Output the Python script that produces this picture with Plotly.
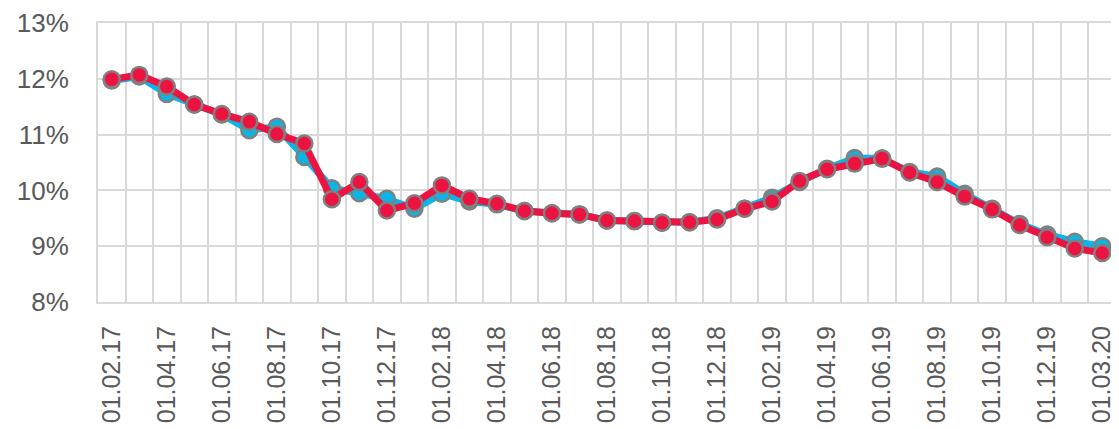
import plotly.graph_objects as go

# monthly dates (labels shown every second month)
dates = [
    "01.02.17", "01.03.17", "01.04.17", "01.05.17", "01.06.17", "01.07.17",
    "01.08.17", "01.09.17", "01.10.17", "01.11.17", "01.12.17", "01.01.18",
    "01.02.18", "01.03.18", "01.04.18", "01.05.18", "01.06.18", "01.07.18",
    "01.08.18", "01.09.18", "01.10.18", "01.11.18", "01.12.18", "01.01.19",
    "01.02.19", "01.03.19", "01.04.19", "01.05.19", "01.06.19", "01.07.19",
    "01.08.19", "01.09.19", "01.10.19", "01.11.19", "01.12.19", "01.01.20",
    "01.03.20",
]

blue_vals = [
    11.97, 12.04, 11.73, 11.54, 11.36, 11.08, 11.14, 10.60, 10.04, 9.95,
    9.85, 9.67, 9.94, 9.80, 9.75, 9.63, 9.59, 9.57, 9.46, 9.45,
    9.42, 9.43, 9.50, 9.67, 9.87, 10.15, 10.39, 10.58, 10.57, 10.33,
    10.25, 9.94, 9.67, 9.40, 9.21, 9.08, 9.00,
]

red_vals = [
    11.99, 12.07, 11.86, 11.54, 11.37, 11.23, 11.01, 10.84, 9.84, 10.15,
    9.64, 9.77, 10.09, 9.85, 9.76, 9.63, 9.59, 9.57, 9.46, 9.45,
    9.42, 9.43, 9.48, 9.67, 9.80, 10.17, 10.38, 10.48, 10.57, 10.32,
    10.15, 9.89, 9.66, 9.38, 9.16, 8.96, 8.88,
]

y_ticks = [8, 9, 10, 11, 12, 13]
y_labels = [f"{v}%" for v in y_ticks]

idx = list(range(len(dates)))
GRID = "#D9D9D9"
TXT = "#595959"
FONT = "Liberation Sans, Arial, sans-serif"
BLUE = "#0BB5E6"
RED = "#EC1340"

fig = go.Figure()
fig.add_trace(go.Scatter(
    x=idx, y=blue_vals, mode="lines+markers",
    line=dict(color=BLUE, width=7),
    marker=dict(size=16, color=BLUE, line=dict(color="#808080", width=2.5)),
))
fig.add_trace(go.Scatter(
    x=idx, y=red_vals, mode="lines+markers",
    line=dict(color=RED, width=7),
    marker=dict(size=16, color=RED, line=dict(color="#808080", width=2.5)),
))

# page body has an 8px margin, so size/margins are reduced accordingly
fig.update_layout(
    width=1111, height=421,
    margin=dict(l=90, r=3, t=15, b=127, autoexpand=False),
    plot_bgcolor="white", paper_bgcolor="white",
    showlegend=False,
    font=dict(family=FONT, size=26, color=TXT),
    xaxis=dict(
        range=[-0.5, len(dates) - 0.5],
        tickmode="array",
        tickvals=idx[::2],
        ticktext=dates[::2],
        tickangle=-90,
        tickfont=dict(size=25),
        automargin=False,
        showgrid=False,
        ticks="",
        ticklabelstandoff=12,
        showline=True, linecolor=GRID, linewidth=2, mirror=True,
        minor=dict(showgrid=True, gridcolor=GRID, gridwidth=2,
                   tick0=-0.5, dtick=1),
        zeroline=False,
    ),
    yaxis=dict(
        range=[y_ticks[0], y_ticks[-1]],
        tickmode="array",
        tickvals=y_ticks,
        ticktext=y_labels,
        automargin=False,
        showgrid=True, gridcolor=GRID, gridwidth=2,
        showline=True, linecolor=GRID, linewidth=2, mirror=True,
        ticks="",
        ticklabelstandoff=22,
        zeroline=False,
    ),
)

fig.write_html("out.html")
